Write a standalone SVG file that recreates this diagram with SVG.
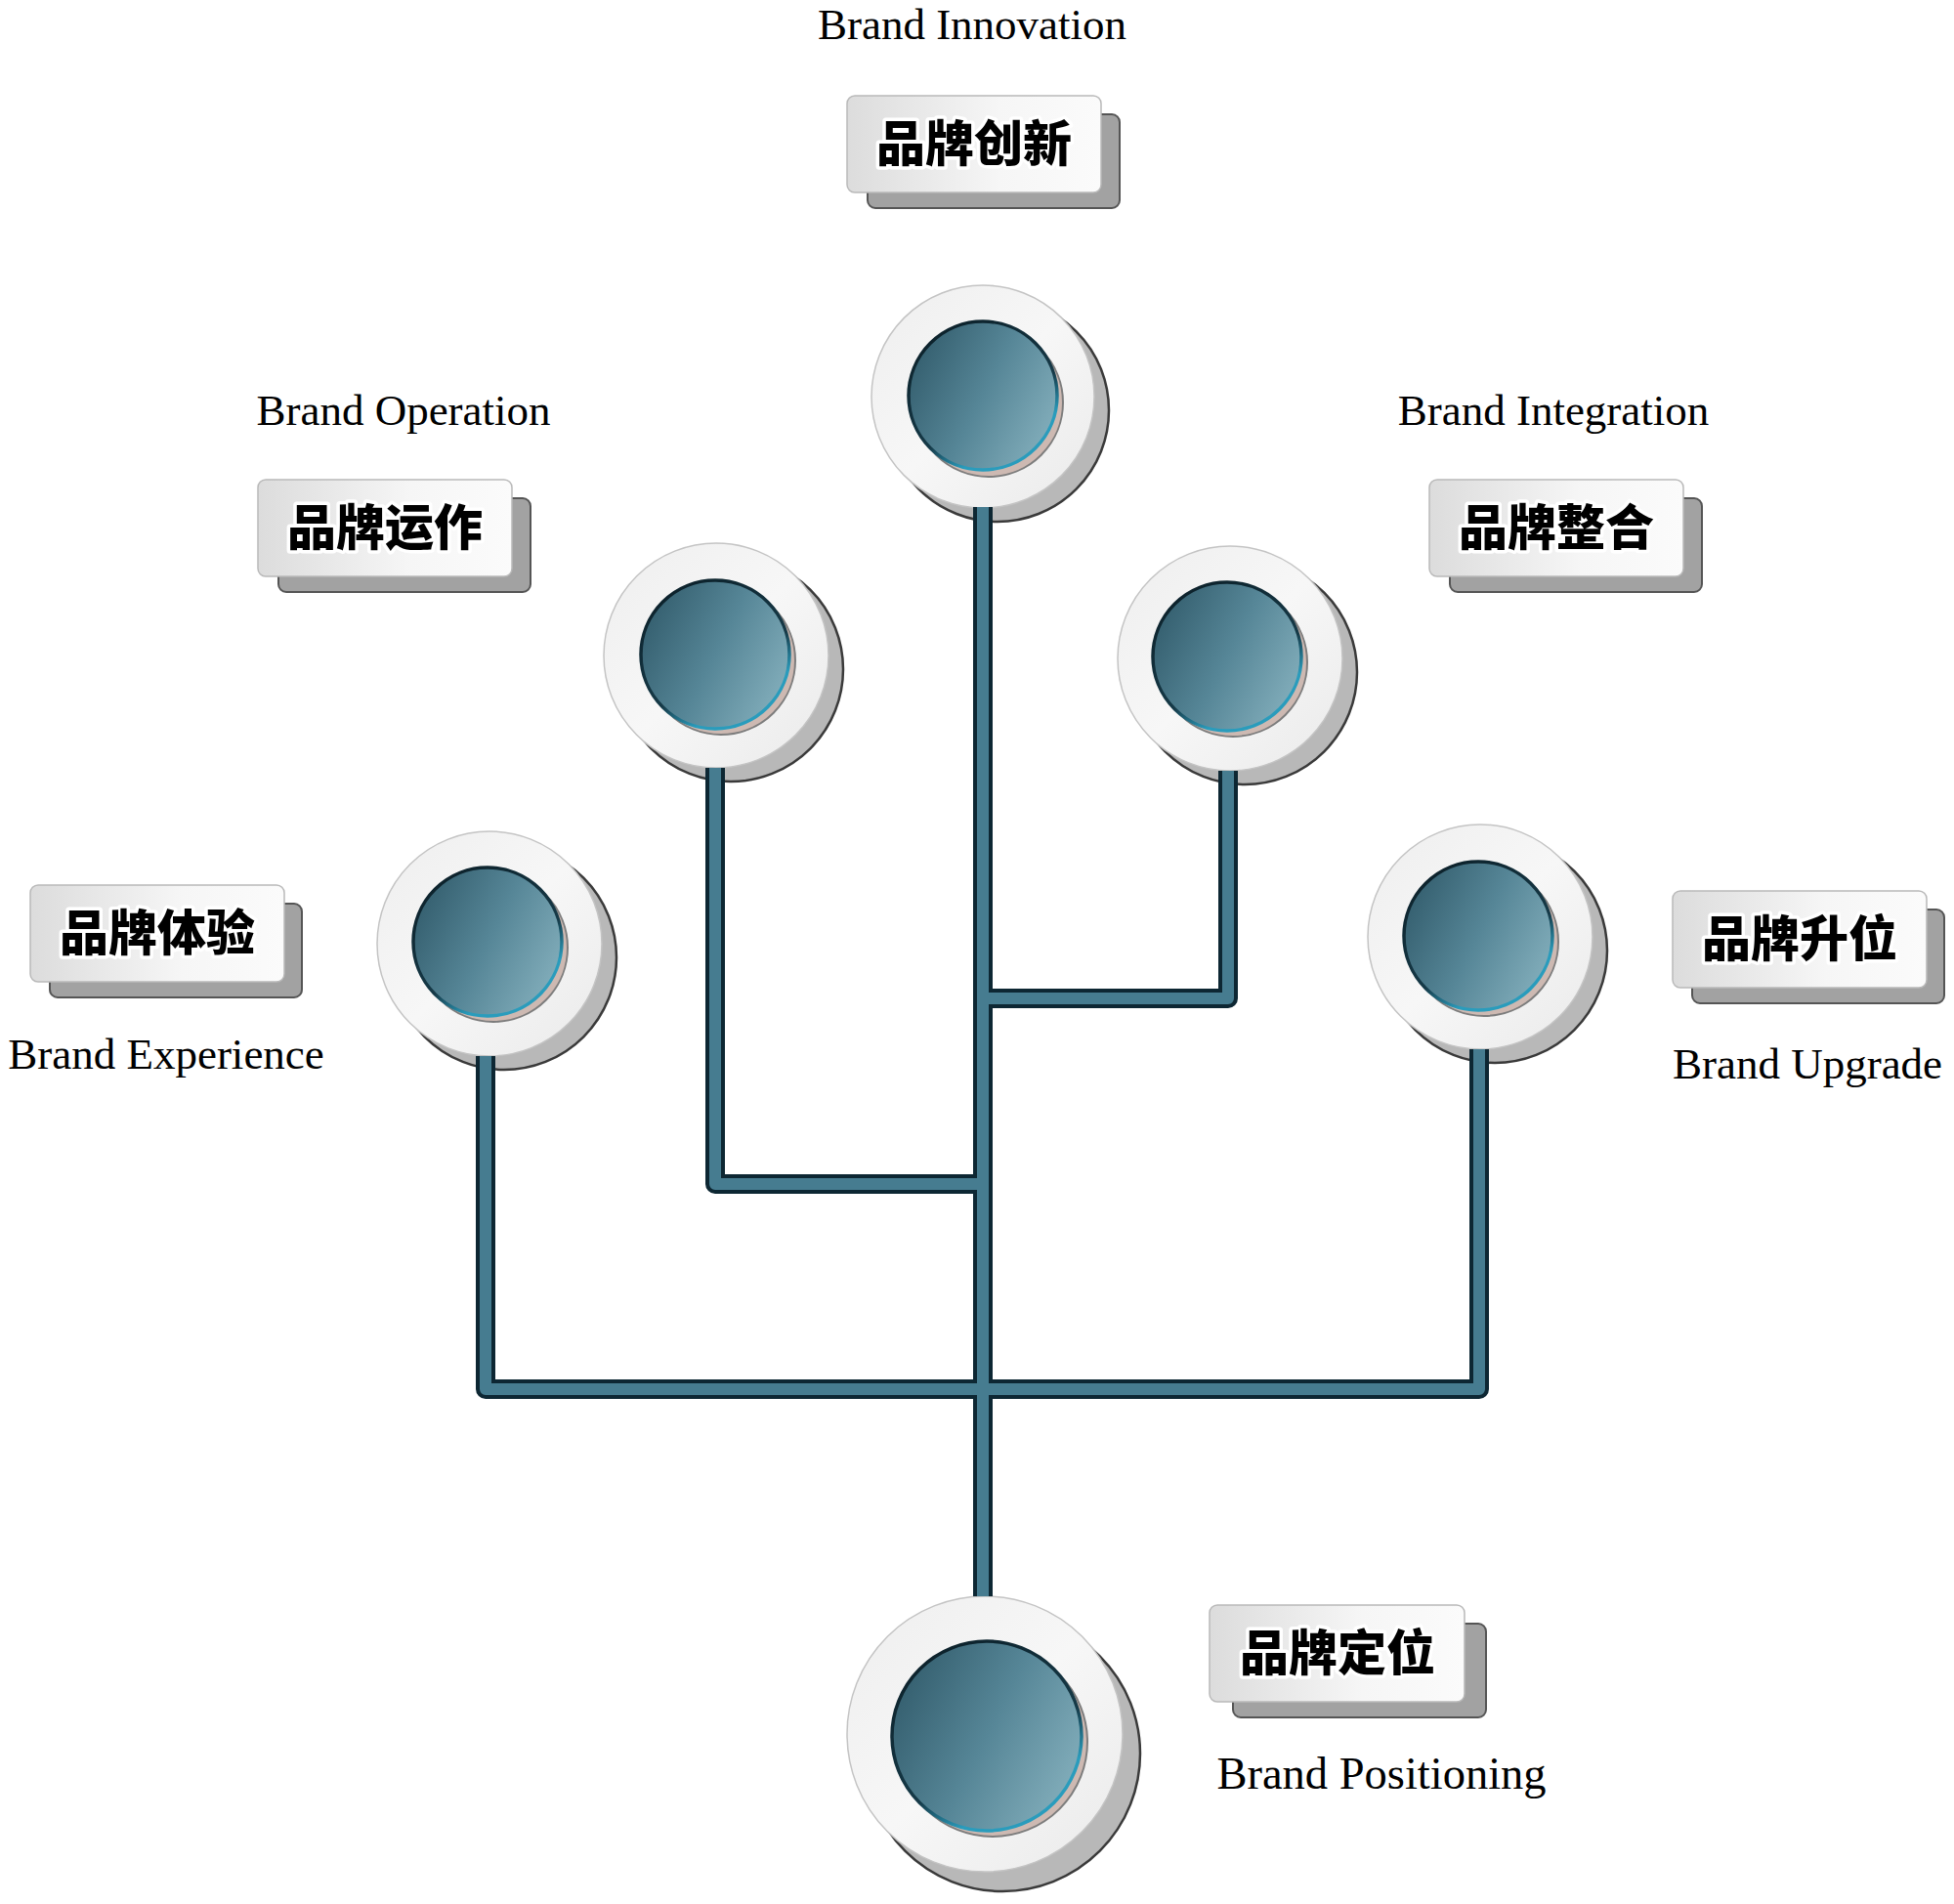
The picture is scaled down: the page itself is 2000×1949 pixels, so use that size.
<svg xmlns="http://www.w3.org/2000/svg" width="2000" height="1949" viewBox="0 0 2000 1949">
<defs>
<linearGradient id="coreG" x1="0" y1="0.25" x2="1" y2="0.75">
<stop offset="0" stop-color="#335d6d"/>
<stop offset="0.5" stop-color="#568697"/>
<stop offset="1" stop-color="#84afbc"/>
</linearGradient>
<linearGradient id="coreS" x1="0.2" y1="0" x2="0.8" y2="1">
<stop offset="0" stop-color="#0c2029"/>
<stop offset="0.6" stop-color="#163a48"/>
<stop offset="0.8" stop-color="#2a9cbc"/>
<stop offset="1" stop-color="#2a9cbc"/>
</linearGradient>
<linearGradient id="ringG" x1="0" y1="0" x2="1" y2="1">
<stop offset="0" stop-color="#eeeeee"/>
<stop offset="0.5" stop-color="#f7f7f7"/>
<stop offset="1" stop-color="#eaeaea"/>
</linearGradient>
<linearGradient id="boxG" x1="0" y1="0" x2="1" y2="0">
<stop offset="0" stop-color="#dcdcdc"/>
<stop offset="0.6" stop-color="#f6f6f6"/>
<stop offset="1" stop-color="#fbfbfb"/>
</linearGradient>
</defs>
<style>
.ring-sh{fill:#b8b8b8;stroke:#3a3a3a;stroke-width:2.5}
.ring{fill:url(#ringG);stroke:#c4c4c4;stroke-width:1.5}
.core-sh{fill:#cdb9b2;stroke:#7d7d7d;stroke-width:2}
.core{fill:url(#coreG);stroke:url(#coreS);stroke-width:3.5}
.box-sh{fill:#a2a2a2;stroke:#555;stroke-width:2}
.box{fill:url(#boxG);stroke:#b9b9b9;stroke-width:1.5}
.zh{font-family:"Noto Sans CJK SC","Noto Sans CJK JP",sans-serif;font-weight:900;font-size:50px;fill:#000;stroke:#fff;stroke-width:7;stroke-linejoin:round;paint-order:stroke;text-anchor:middle}
.en{font-family:"Liberation Serif","Times New Roman",serif;font-size:45px;fill:#000;text-anchor:middle}
.pipe-o{fill:none;stroke:#0d2733;stroke-width:20;stroke-linejoin:round}
.pipe-i{fill:none;stroke:#467c90;stroke-width:12;stroke-linejoin:round}
</style>
<rect width="2000" height="1949" fill="#ffffff"/>

<g id="node-innovation">
<text class="en" x="995" y="40">Brand Innovation</text>
<rect class="box-sh" x="888" y="117" width="258" height="96" rx="8"/>
<rect class="box" x="867" y="98" width="260" height="99" rx="8"/>
<text class="zh" x="997" y="165">品牌创新</text>
<circle class="ring-sh" cx="1021" cy="420" r="114"/>
<circle class="ring" cx="1006" cy="406" r="114"/>
<circle class="core-sh" cx="1012" cy="412" r="76"/>
<circle class="core" cx="1006" cy="405" r="76"/>
</g>

<g id="node-operation">
<text class="en" x="413" y="435">Brand Operation</text>
<rect class="box-sh" x="285" y="510" width="258" height="96" rx="8"/>
<rect class="box" x="264" y="491" width="260" height="99" rx="8"/>
<text class="zh" x="394" y="558">品牌运作</text>
<circle class="ring-sh" cx="748" cy="685" r="115"/>
<circle class="ring" cx="733" cy="671" r="115"/>
<circle class="core-sh" cx="738" cy="676" r="76"/>
<circle class="core" cx="732" cy="670" r="76"/>
</g>

<g id="node-integration">
<text class="en" x="1590" y="435">Brand Integration</text>
<rect class="box-sh" x="1484" y="510" width="258" height="96" rx="8"/>
<rect class="box" x="1463" y="491" width="260" height="99" rx="8"/>
<text class="zh" x="1593" y="558">品牌整合</text>
<circle class="ring-sh" cx="1274" cy="688" r="115"/>
<circle class="ring" cx="1259" cy="674" r="115"/>
<circle class="core-sh" cx="1262" cy="678" r="76"/>
<circle class="core" cx="1256" cy="672" r="76"/>
</g>

<g id="node-experience">
<rect class="box-sh" x="51" y="925" width="258" height="96" rx="8"/>
<rect class="box" x="31" y="906" width="260" height="99" rx="8"/>
<text class="zh" x="161" y="973">品牌体验</text>
<text class="en" x="170" y="1094">Brand Experience</text>
<circle class="ring-sh" cx="516" cy="980" r="115"/>
<circle class="ring" cx="501" cy="966" r="115"/>
<circle class="core-sh" cx="505" cy="970" r="76"/>
<circle class="core" cx="499" cy="964" r="76"/>
</g>

<g id="node-upgrade">
<rect class="box-sh" x="1732" y="931" width="258" height="96" rx="8"/>
<rect class="box" x="1712" y="912" width="260" height="99" rx="8"/>
<text class="zh" x="1842" y="979">品牌升位</text>
<text class="en" x="1850" y="1104">Brand Upgrade</text>
<circle class="ring-sh" cx="1530" cy="973" r="115"/>
<circle class="ring" cx="1515" cy="959" r="115"/>
<circle class="core-sh" cx="1519" cy="964" r="76"/>
<circle class="core" cx="1513" cy="958" r="76"/>
</g>

<g id="node-positioning">
<rect class="box-sh" x="1262" y="1662" width="259" height="96" rx="8"/>
<rect class="box" x="1238" y="1643" width="261" height="99" rx="8"/>
<text class="zh" x="1369" y="1710">品牌定位</text>
<text class="en" x="1414" y="1831" style="font-size:46.5px">Brand Positioning</text>
<circle class="ring-sh" cx="1026" cy="1795" r="141"/>
<circle class="ring" cx="1008" cy="1775" r="141"/>
<circle class="core-sh" cx="1016" cy="1783" r="97"/>
<circle class="core" cx="1010" cy="1777" r="97"/>
</g>

<g id="connectors">
<path class="pipe-o" d="M1006 519 V1634"/>
<path class="pipe-o" d="M1257 789 V1022 H1006"/>
<path class="pipe-o" d="M732 786 V1212 H1006"/>
<path class="pipe-o" d="M497 1081 V1422 H1514 V1074"/>
<path class="pipe-i" d="M1006 519 V1634"/>
<path class="pipe-i" d="M1257 789 V1022 H1006"/>
<path class="pipe-i" d="M732 786 V1212 H1006"/>
<path class="pipe-i" d="M497 1081 V1422 H1514 V1074"/>
</g>
</svg>
